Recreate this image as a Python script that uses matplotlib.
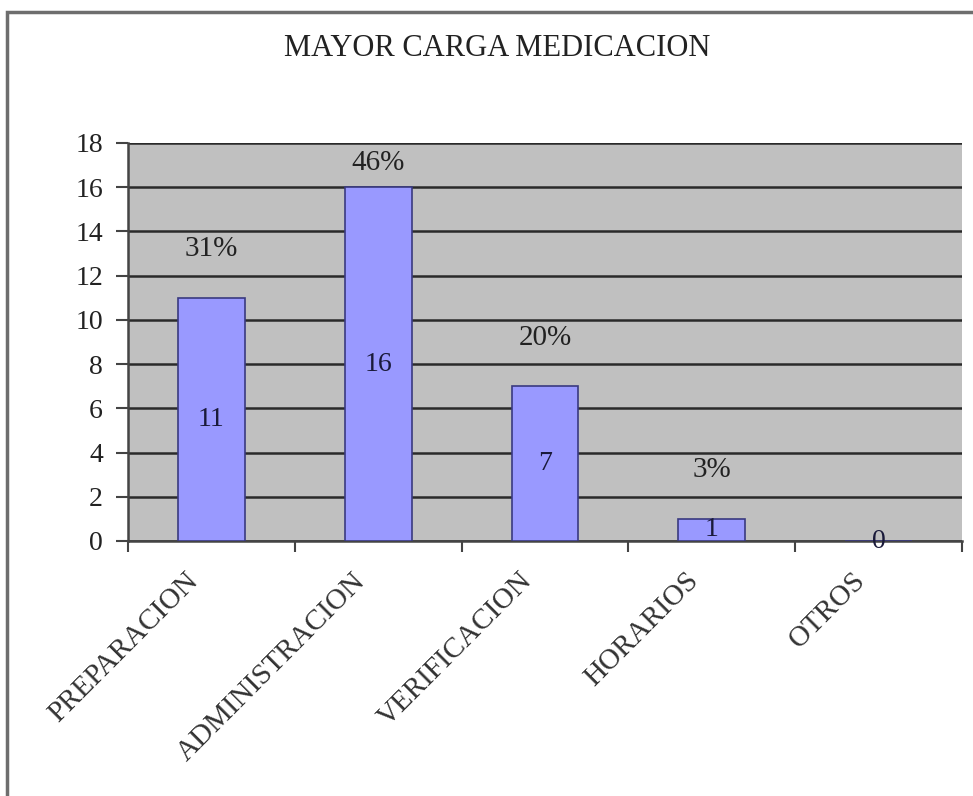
import matplotlib
matplotlib.use("Agg")
import matplotlib.pyplot as plt
from matplotlib.patches import Rectangle
from matplotlib.transforms import ScaledTranslation

categories = ["PREPARACION", "ADMINISTRACION", "VERIFICACION", "HORARIOS", "OTROS"]
values = [11, 16, 7, 1, 0]
pct_labels = ["31%", "46%", "20%", "3%", ""]
title = "MAYOR CARGA MEDICACION"
yticks = [0, 2, 4, 6, 8, 10, 12, 14, 16, 18]

plt.rcParams['font.family'] = ['Liberation Serif', 'DejaVu Serif']

fig = plt.figure(figsize=(9.73, 7.96), dpi=100)
fig.patch.set_facecolor('white')

# outer chart frame
fig.patches.append(Rectangle((7/973, -0.05), 1.1, 1 - 12/796 + 0.05, transform=fig.transFigure,
                             fill=False, edgecolor='#6e6e6e', linewidth=2.5, zorder=0))

ax = fig.add_axes([128/973, 1 - 541/796, (962 - 128)/973, (541 - 143)/796])
ax.set_facecolor('#c0c0c0')

x = list(range(len(categories)))
ax.bar(x, values, width=0.4, color='#9999ff', edgecolor='#3a3a80', linewidth=1.2, zorder=3)

ax.set_xlim(-0.5, len(categories) - 0.5)
ax.set_ylim(0, 18)
ax.set_yticks(yticks)
ax.set_yticklabels([str(t) for t in yticks], fontsize=20, color='#222222')
ax.yaxis.grid(True, color='#2a2a2a', linewidth=1.8, zorder=1)
ax.set_axisbelow(True)

ax.set_xticks(x)
ax.set_xticklabels(categories, rotation=45, ha='right', va='center', fontsize=21,
                   color='#333333', rotation_mode='anchor')
ax.tick_params(axis='x', length=0, pad=0)
offset = ScaledTranslation(-17/100, -36/100, fig.dpi_scale_trans)
for lab in ax.get_xticklabels():
    lab.set_transform(lab.get_transform() + offset)
ax.set_xticks([i - 0.5 for i in range(len(categories) + 1)], minor=True)
ax.tick_params(axis='x', which='minor', length=8, width=1.5, color='#444444')
ax.tick_params(axis='y', length=9, width=1.5, color='#444444', pad=9)

for s in ['top', 'right']:
    ax.spines[s].set_visible(False)
for s in ['left', 'bottom']:
    ax.spines[s].set_color('#444444')
    ax.spines[s].set_linewidth(1.8)

for xi, v, p in zip(x, values, pct_labels):
    ax.text(xi, v / 2, str(v), ha='center', va='center', fontsize=20, color='#1a1a3a', zorder=5)
    if p:
        ax.text(xi, min(v + 2.2, 17.1), p, ha='center', va='center', fontsize=21,
                color='#222222', zorder=5)

fig.text(497/973, 1 - 48/796, title, ha='center', va='center', fontsize=22, color='#222222')

fig.savefig("out.png", dpi=100)
